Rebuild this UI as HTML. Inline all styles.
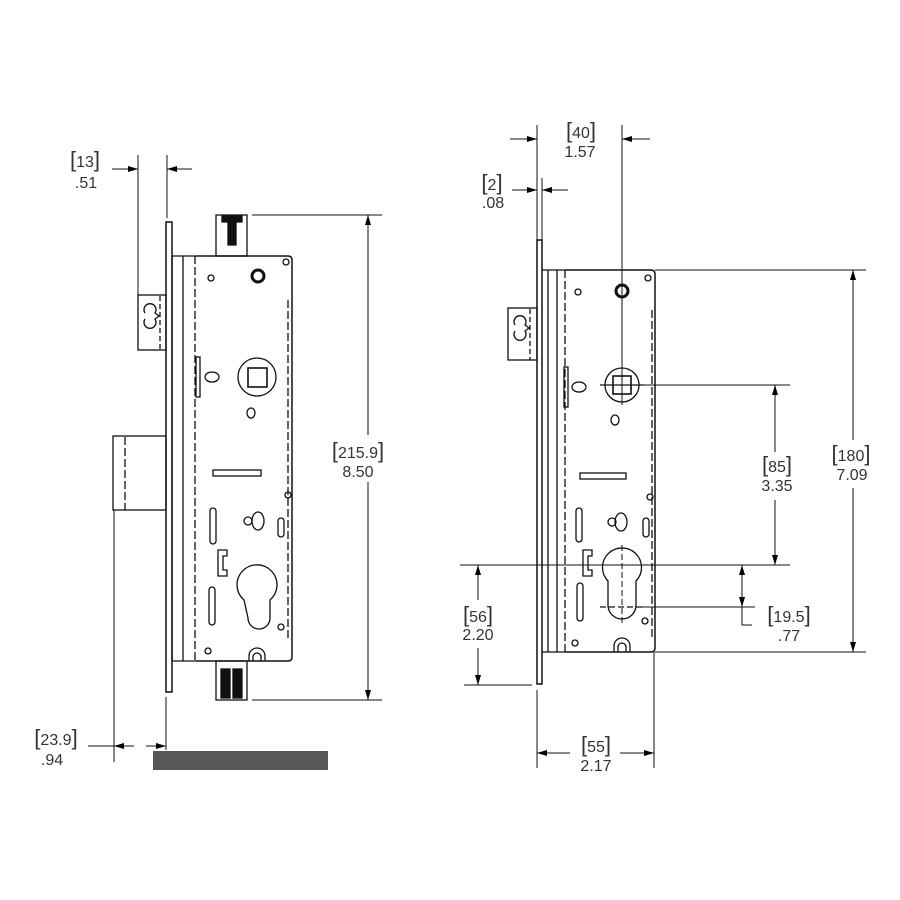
<!DOCTYPE html>
<html><head><meta charset="utf-8"><style>
html,body{margin:0;padding:0;background:#fff}
svg{display:block}
text{font-family:"Liberation Sans",sans-serif;fill:#333;font-size:16px;text-anchor:middle}
.b{font-size:22px;font-weight:normal}
</style></head><body>
<svg width="900" height="900" viewBox="0 0 900 900" xmlns="http://www.w3.org/2000/svg">
<defs>
<marker id="a" viewBox="0 0 10 6" refX="10" refY="3" markerWidth="10" markerHeight="6" orient="auto-start-reverse" markerUnits="userSpaceOnUse"><path d="M0,0 L10,3 L0,6z" fill="#000"/></marker>
</defs>
<g stroke="#111" stroke-width="1.3" fill="none">
<rect x="166" y="222" width="6" height="470" stroke-width="1.5"/>
<line x1="172" y1="256" x2="172" y2="661"/>
<line x1="183" y1="256" x2="183" y2="661"/>
<line x1="195" y1="256" x2="195" y2="661" stroke-dasharray="8,3"/>
<line x1="172" y1="256" x2="196" y2="256"/>
<line x1="172" y1="661" x2="196" y2="661"/>
<path d="M196,256 H288 Q292,256 292,260 V657 Q292,661 288,661 H196" stroke-width="1.5"/>
<line x1="288" y1="300" x2="288" y2="640" stroke-dasharray="8,3"/>
<rect x="216" y="215" width="31" height="41"/>
<path d="M222,216 H242 V222 H236 V245 H228 V222 H222z" fill="#111"/>
<rect x="216" y="661" width="31" height="39"/>
<rect x="221" y="669" width="9" height="29" fill="#111"/><rect x="233" y="669" width="9" height="29" fill="#111"/>
<rect x="138" y="295" width="28" height="55"/>
<line x1="160" y1="296" x2="160" y2="350" stroke-dasharray="5,3"/>
<path d="M145,313 a6,6 0 1 1 10,0 l4,3 l-4,3 a6,6 0 1 1 -10,0" />
<rect x="113" y="436" width="53" height="74"/>
<line x1="125" y1="437" x2="125" y2="510" stroke-dasharray="8,3"/>
<circle cx="211" cy="278" r="3"/>
<circle cx="258" cy="276" r="6" stroke-width="3"/>
<circle cx="286" cy="262" r="3"/>
<circle cx="257" cy="377" r="19"/>
<rect x="248" y="368" width="19" height="19" stroke-width="1.6"/>
<ellipse cx="212" cy="377" rx="7" ry="5"/>
<rect x="196" y="357" width="4" height="40" />
<ellipse cx="251" cy="413" rx="4" ry="5"/>
<rect x="213" y="470" width="48" height="6"/>
<circle cx="288" cy="495" r="3"/>
<rect x="210" y="508" width="6" height="36" rx="3"/>
<circle cx="248" cy="521" r="4"/><ellipse cx="258" cy="521" rx="6" ry="9"/>
<rect x="278" y="518" width="6" height="19" rx="3"/>
<path d="M218,550 h9 v6 h-4 v14 h4 v6 h-9z"/>
<rect x="209" y="587" width="6" height="38" rx="3"/>
<path d="M244,600 A20,20 0 1 1 270,600 V618 A8,8 0 0 1 248,618 Z"/>
<circle cx="281" cy="627" r="3"/>
<circle cx="208" cy="651" r="3"/>
<path d="M249,661 V656 A8,8 0 0 1 265,656 V661"/>
<path d="M253,661 V657 A4,4 0 0 1 261,657 V661"/>

<rect x="537" y="240" width="5" height="444" stroke-width="1.5"/>
<line x1="548" y1="270" x2="548" y2="652"/>
<line x1="557" y1="270" x2="557" y2="652"/>
<line x1="565" y1="270" x2="565" y2="652" stroke-dasharray="8,3"/>
<line x1="542" y1="270" x2="565" y2="270"/><line x1="542" y1="652" x2="565" y2="652"/>
<path d="M565,270 H651 Q655,270 655,274 V648 Q655,652 651,652 H565" stroke-width="1.5"/>
<line x1="652" y1="310" x2="652" y2="640" stroke-dasharray="8,3"/>
<rect x="508" y="308" width="29" height="52"/>
<line x1="530" y1="309" x2="530" y2="360" stroke-dasharray="5,3"/>
<path d="M515,325 a6,6 0 1 1 10,0 l4,3 l-4,3 a6,6 0 1 1 -10,0"/>
<circle cx="578" cy="292" r="3"/>
<circle cx="622" cy="291" r="6" stroke-width="3"/>
<circle cx="648" cy="278" r="3"/>
<circle cx="622" cy="385" r="17"/>
<rect x="613" y="376" width="18" height="18" stroke-width="1.6"/>
<line x1="600" y1="385" x2="644" y2="385"/>
<ellipse cx="579" cy="387" rx="7" ry="5"/>
<rect x="564" y="367" width="4" height="40"/>
<ellipse cx="615" cy="420" rx="4" ry="5"/>
<rect x="580" y="473" width="46" height="6"/>
<circle cx="650" cy="497" r="3"/>
<rect x="576" y="508" width="6" height="34" rx="3"/>
<circle cx="612" cy="522" r="4"/><ellipse cx="621" cy="522" rx="6" ry="9"/>
<rect x="643" y="518" width="6" height="19" rx="3"/>
<path d="M583,550 h9 v6 h-4 v14 h4 v6 h-9z"/>
<rect x="577" y="583" width="6" height="38" rx="3"/>
<path d="M608,581 A19.5,19.5 0 1 1 636,581 V605 A14,14 0 0 1 608,605 Z"/>
<line x1="600" y1="607" x2="644" y2="607" stroke-dasharray="6,3"/>
<circle cx="645" cy="621" r="3"/>
<circle cx="575" cy="643" r="3"/>
<path d="M614,652 V646 A8,8 0 0 1 630,646 V652"/>
<path d="M618,652 V647 A4,4 0 0 1 626,647 V652"/>
</g>

<g stroke="#111" stroke-width="1" fill="none">
<line x1="138" y1="155" x2="138" y2="295"/>
<line x1="167" y1="155" x2="167" y2="218"/>
<line x1="112" y1="169" x2="138" y2="169" marker-end="url(#a)"/>
<line x1="192" y1="169" x2="167" y2="169" marker-end="url(#a)"/>
<line x1="252" y1="215" x2="382" y2="215"/>
<line x1="252" y1="700" x2="382" y2="700"/>
<line x1="368" y1="435" x2="368" y2="215" marker-end="url(#a)"/>
<line x1="368" y1="482" x2="368" y2="700" marker-end="url(#a)"/>
<line x1="114" y1="510" x2="114" y2="762"/>
<line x1="166" y1="697" x2="166" y2="750"/>
<line x1="88" y1="746" x2="114" y2="746"/>
<line x1="134" y1="746" x2="114" y2="746" marker-end="url(#a)"/>
<line x1="146" y1="746" x2="166" y2="746" marker-end="url(#a)"/>
<line x1="537" y1="125" x2="537" y2="240"/>
<line x1="622" y1="125" x2="622" y2="405"/>
<line x1="510" y1="139" x2="537" y2="139" marker-end="url(#a)"/>
<line x1="650" y1="139" x2="622" y2="139" marker-end="url(#a)"/>
<line x1="542" y1="178" x2="542" y2="240"/>
<line x1="512" y1="190" x2="537" y2="190" marker-end="url(#a)"/>
<line x1="568" y1="190" x2="542" y2="190" marker-end="url(#a)"/>
<line x1="600" y1="385" x2="790" y2="385"/>
<line x1="460" y1="565" x2="790" y2="565"/>
<line x1="640" y1="607" x2="755" y2="607"/>
<line x1="622" y1="545" x2="622" y2="625" stroke-dasharray="6,3"/>
<line x1="655" y1="270" x2="866" y2="270"/>
<line x1="655" y1="652" x2="866" y2="652"/>
<line x1="853" y1="440" x2="853" y2="270" marker-end="url(#a)"/>
<line x1="853" y1="488" x2="853" y2="652" marker-end="url(#a)"/>
<line x1="775" y1="452" x2="775" y2="385" marker-end="url(#a)"/>
<line x1="775" y1="500" x2="775" y2="565" marker-end="url(#a)"/>
<line x1="464" y1="685" x2="532" y2="685"/>
<line x1="478" y1="600" x2="478" y2="565" marker-end="url(#a)"/>
<line x1="478" y1="648" x2="478" y2="685" marker-end="url(#a)"/>
<line x1="742" y1="565" x2="742" y2="592"/>
<line x1="742" y1="583" x2="742" y2="565" marker-end="url(#a)"/>
<line x1="742" y1="589" x2="742" y2="607" marker-end="url(#a)"/>
<polyline points="742,607 742,625 752,625"/>
<line x1="537" y1="690" x2="537" y2="768"/>
<line x1="654" y1="652" x2="654" y2="768"/>
<line x1="570" y1="753" x2="537" y2="753" marker-end="url(#a)"/>
<line x1="620" y1="753" x2="654" y2="753" marker-end="url(#a)"/>
</g>

<g>
<text x="85" y="167"><tspan class="b">[</tspan>13<tspan class="b">]</tspan></text>
<text x="86" y="188">.51</text>
<text x="358" y="458"><tspan class="b">[</tspan>215.9<tspan class="b">]</tspan></text>
<text x="358" y="477">8.50</text>
<text x="56" y="745"><tspan class="b">[</tspan>23.9<tspan class="b">]</tspan></text>
<text x="52" y="765">.94</text>
<text x="581" y="138"><tspan class="b">[</tspan>40<tspan class="b">]</tspan></text>
<text x="580" y="157">1.57</text>
<text x="492" y="190"><tspan class="b">[</tspan>2<tspan class="b">]</tspan></text>
<text x="493" y="208">.08</text>
<text x="851" y="461"><tspan class="b">[</tspan>180<tspan class="b">]</tspan></text>
<text x="852" y="480">7.09</text>
<text x="777" y="472"><tspan class="b">[</tspan>85<tspan class="b">]</tspan></text>
<text x="777" y="491">3.35</text>
<text x="478" y="622"><tspan class="b">[</tspan>56<tspan class="b">]</tspan></text>
<text x="478" y="640">2.20</text>
<text x="789" y="622"><tspan class="b">[</tspan>19.5<tspan class="b">]</tspan></text>
<text x="789" y="641">.77</text>
<text x="596" y="752"><tspan class="b">[</tspan>55<tspan class="b">]</tspan></text>
<text x="596" y="771">2.17</text>
</g>
<rect x="153" y="751" width="175" height="19" fill="#575757"/>
</svg>
</body></html>
